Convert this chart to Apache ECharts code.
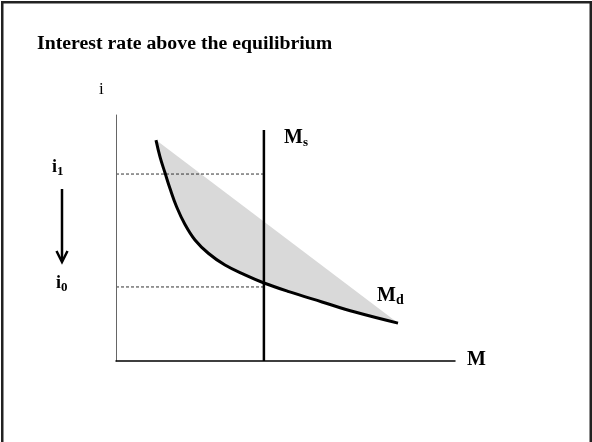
<!DOCTYPE html>
<html lang="en" style="height: 100%">
<head>
  <meta charset="utf-8">
  <style>
    body { margin: 0; background: #fff; }
  </style>
</head>
<body style="height: 100%; margin: 0">
  <div id="container" style="width: 592px; height: 442px"></div>

  <script type="text/javascript" src="https://cdn.jsdelivr.net/npm/echarts@6/dist/echarts.min.js"></script>

  <script type="text/javascript">
    // money demand curve Md (quantity of money, interest rate)
    var demandM = [13.333, 14.67, 16.33, 18.0, 20.23, 23.0, 26.33, 30.77, 36.33, 43.0, 49.33, 57.33, 68.67, 79.67, 94];
    var demandI = [89.8, 83.0, 76.5, 70.1, 62.6, 55.5, 49.2, 43.8, 39.0, 35.0, 31.7, 28.3, 24.0, 19.9, 15.4];
    // fixed money supply Ms
    var supplyM = 49.3;
    var supplyTop = 93.9;
    // interest rate levels i1 (above equilibrium) and i0
    var rateLevels = [76.0, 30.1];

    var serif = '"Liberation Serif", "DejaVu Serif", serif';

    var demand = demandM.map(function (m, k) { return [m, demandI[k]]; });
    var chord = [demand[0], demand[demand.length - 1]];

    var dom = document.getElementById('container');
    var myChart = echarts.init(dom, null, { renderer: 'canvas' });

    var dashed = rateLevels.map(function (r) {
      return {
        type: 'line',
        data: [[0, r], [supplyM, r]],
        symbol: 'none',
        silent: true,
        z: 4,
        lineStyle: { color: '#333', width: 1, type: [3, 2] }
      };
    });

    var smoothness = 0.4;

    var option = {
      animation: false,
      grid: { left: 116, right: 137, top: 115, bottom: 81 },
      xAxis: {
        type: 'value', min: 0, max: 113, z: 6,
        axisLine: { lineStyle: { color: '#000', width: 1.5 } },
        axisTick: { show: false }, axisLabel: { show: false }, splitLine: { show: false }
      },
      yAxis: {
        type: 'value', min: 0, max: 100, z: 6,
        axisLine: { show: true, lineStyle: { color: '#666', width: 1 } },
        axisTick: { show: false }, axisLabel: { show: false }, splitLine: { show: false }
      },
      series: [
        {
          // shaded gap between the chord and the curve
          type: 'line', data: chord, symbol: 'none', z: 1, silent: true,
          lineStyle: { width: 0 },
          areaStyle: { color: '#d9d9d9', opacity: 1 }
        },
        {
          type: 'line', data: demand, smooth: smoothness,
          symbol: 'none', z: 2, silent: true,
          lineStyle: { width: 0 },
          areaStyle: { color: '#fff', opacity: 1 }
        }
      ].concat(dashed).concat([
        {
          type: 'line', data: [[supplyM, 0], [supplyM, supplyTop]], symbol: 'none', z: 5,
          lineStyle: { color: '#000', width: 2.5 }
        },
        {
          type: 'line', data: demand, smooth: smoothness,
          symbol: 'none', z: 5,
          lineStyle: { color: '#000', width: 3 }
        }
      ]),
      graphic: [
        {
          type: 'rect', silent: true,
          shape: { x: 2.25, y: 2.25, width: 588.5, height: 460 },
          style: { fill: null, stroke: '#222', lineWidth: 2.5 }
        },
        {
          type: 'text', left: 37, top: 34,
          style: { text: 'Interest rate above the equilibrium', font: 'bold 19.8px ' + serif, fill: '#000' }
        },
        {
          type: 'text', left: 99, top: 81,
          style: { text: 'i', font: '17px ' + serif, fill: '#000' }
        },
        {
          type: 'text', left: 467, top: 350,
          style: { text: 'M', font: 'bold 20px ' + serif, fill: '#000' }
        },
        {
          type: 'text', left: 52, top: 158,
          style: {
            text: '{a|i}{b|1}',
            rich: {
              a: { font: 'bold 18px ' + serif, fill: '#000' },
              b: { font: 'bold 13px ' + serif, fill: '#000', padding: [9, 0, 0, 0] }
            }
          }
        },
        {
          type: 'text', left: 56, top: 274,
          style: {
            text: '{a|i}{b|0}',
            rich: {
              a: { font: 'bold 18px ' + serif, fill: '#000' },
              b: { font: 'bold 13px ' + serif, fill: '#000', padding: [9, 0, 0, 0] }
            }
          }
        },
        {
          type: 'text', left: 284, top: 128,
          style: {
            text: '{a|M}{b|s}',
            rich: {
              a: { font: 'bold 20px ' + serif, fill: '#000' },
              b: { font: 'bold 13px ' + serif, fill: '#000', padding: [9, 0, 0, 0] }
            }
          }
        },
        {
          type: 'text', left: 377, top: 286,
          style: {
            text: '{a|M}{b|d}',
            rich: {
              a: { font: 'bold 20px ' + serif, fill: '#000' },
              b: { font: 'bold 14px ' + serif, fill: '#000', padding: [9, 0, 0, 0] }
            }
          }
        },
        {
          type: 'line', silent: true,
          shape: { x1: 62, y1: 189, x2: 62, y2: 260 },
          style: { stroke: '#000', lineWidth: 2.5 }
        },
        {
          type: 'polyline', silent: true,
          shape: { points: [[56.5, 251], [62, 262], [67.5, 251]] },
          style: { stroke: '#000', lineWidth: 2.5, fill: null }
        }
      ]
    };

    myChart.setOption(option);
    window.addEventListener('resize', myChart.resize);
  </script>
</body>
</html>
